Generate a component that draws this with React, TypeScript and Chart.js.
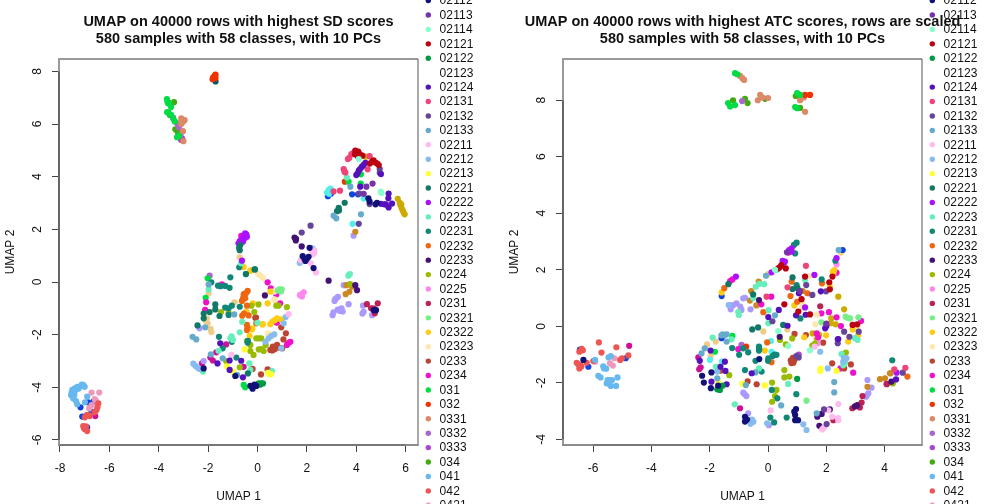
import React, { useEffect, useRef } from "react";
import { Chart, registerables } from "chart.js";

Chart.register(...registerables);

type P = number[][];

const legendLabels = ["02112","02113","02114","02121","02122","02123","02124","02131","02132","02133","02211","02212","02213","02221","02222","02223","02231","02232","02233","0224","0225","0231","02321","02322","02323","0233","0234","031","032","0331","0332","0333","034","041","042","0421"];
const legendColors = ["#111177","#7733aa","#88ffcc","#bb0011","#009944","#ffffff","#5511bb","#ee4477","#664499","#66aacc","#ffbbee","#88bbee","#ffff33","#117766","#aa11ff","#66eebb","#118877","#ee6611","#441177","#99bb00","#ff88ee","#bb2255","#77ee88","#ffcc11","#ffe8b0","#bb4433","#ee11cc","#00dd44","#ee3300","#dd8866","#aa66cc","#aa44cc","#44aa11","#66b8ee","#ee5555","#ee99bb"];
const unlistedColors = ["#ccaa00","#55eeee","#1144dd","#cc8822","#aa99ff","#cc1199","#eecc88","#115566"];

const xTitle = "UMAP 1";
const yTitle = "UMAP 2";
const sdTitle = ["UMAP on 40000 rows with highest SD scores", "580 samples with 58 classes, with 10 PCs"];
const atcTitle = ["UMAP on 40000 rows with highest ATC scores, rows are scaled", "580 samples with 58 classes, with 10 PCs"];

/* ---------- left panel (SD) ---------- */
const sd_02112: P = [[1.83,.98],[2.07,.96],[1.94,.8],[2.11,1.3],[2.27,.53],[4.49,3.18],[4.54,3.05],[4.84,3.01],[4.71,-1.07],[4.8,-1.07],[-.22,-3.97],[-.29,-3.94],[-.12,-3.9],[-2.18,-3.28],[-.9,-3.57],[1.9,.88],[2,.88],[-.2,-4.05],[-.05,-3.95],[4.78,2.95]];
const sd_02113: P = [[4.41,3.62],[4.66,3.74],[4.3,3.35]];
const sd_02114: P = [[4.1,4.67],[4.99,3.43],[5.02,3.38]];
const sd_02121: P = [[3.96,4.99],[4.14,4.86],[4.64,4.57],[4.77,4.54],[4.91,4.44],[4.06,4.78],[4.25,4.8],[4.55,4.5],[4.02,4.9],[4.08,4.95],[4.7,4.62],[4.85,4.5],[3.95,4.85]];
const sd_02122: P = [[.05,-3.85],[.15,-3.85],[.1,-3.9],[.22,-3.85]];
const sd_02124: P = [[4.1,4.23],[4.23,4.38],[4.37,4.53],[4,4.06],[5,4.1],[4.16,3.62],[5.31,3.36],[5.3,3.18],[5.14,2.95],[5.31,2.83],[5.45,2.98],[-1.51,-2.33],[-.66,-2.99],[-1.62,-3.09],[-1.13,-2.98],[-1.13,-3.34],[-.59,-3.62],[5,2.97],[4.16,4.3],[4.3,4.45],[5.2,2.95],[4.05,4.12]];
const sd_02131: P = [[3.8,4.86],[3.66,4.67],[3.49,4.29],[3.56,4.16],[4.46,4.28],[3.08,3.44],[3.34,3.47],[4.54,4.78],[3.52,4.2],[3.88,4.9],[3.72,4.72]];
const sd_02132: P = [[4.95,4.29],[4.54,2.96],[4.1,2.21],[2.15,2.14],[1.79,1.88],[4.12,3.36],[4.95,4.15]];
const sd_02133: P = [[3.76,3.62],[4.19,2.57],[3.19,2.42],[3.08,2.52],[-2.12,-1.72],[-.94,-1.23],[-1.89,-2.75],[-1.41,-2.9],[-.83,-3.53],[-2.63,-2.08],[-2.48,-2.18],[-1.98,-.09]];
const sd_02211: P = [[2.2,1.19],[2.3,1.11],[1.75,.83],[2.16,.71],[2.37,.36],[1.26,-1.22],[-1.06,-2.77],[2.3,1.2],[2.25,1.05]];
const sd_02212: P = [[2.22,1.28],[1.71,.73],[1.14,-1.33],[1.06,-1.57],[.45,-2.14],[.68,-1.99],[.55,-2.05],[.32,-2.27],[-2.52,-3.18],[-2.43,-3.25],[-2.6,-3.1],[.96,-2.52],[-2.35,-3.3]];
const sd_02213: P = [[-.52,-2.56],[-1.24,-3.2],[-.99,-3.4],[.49,-3.51],[.42,-3.45],[.55,-3.5]];
const sd_02221: P = [[3.53,3.01],[3.29,2.82],[3.22,2.69],[-.12,.48],[-.47,.3],[-.7,1.4],[-.72,1.21],[-1.71,-.85],[-1.71,-1.04],[-1.94,-1.14],[-2.18,-1.2],[-1.54,-1.29],[-2.43,-1.65],[-2.18,-1.38],[-.39,-3.47],[3.3,2.72]];
const sd_02222: P = [[-.5,1.85],[-.52,1.66],[-.59,1.53],[-.77,1.47],[-.43,1.72],[-.63,.81],[-.55,1.75],[-.45,1.8],[-.65,1.6],[-.72,1.55]];
const sd_02223: P = [[3.62,3.97],[3.68,.24],[3.74,.3],[-.67,.71],[-1.98,-.28],[-.62,-1.51],[-.72,-1.91],[-1.1,-2.14],[-1.0,-2.2],[-.33,-3.09],[-.29,-3.34],[-1.58,-2.61],[-2.21,-3.4],[.59,-3.38],[.0,-1.55],[-1.05,-2.06]];
const sd_02231: P = [[-1.1,.18],[-1.31,-.15],[-1.13,-.22],[-1.6,-.14],[-1.87,-.01],[-.74,.56],[-.47,.3],[-.1,.48],[-1.17,-1.25],[-.72,-.94],[-1.31,-.97],[-1.17,-1],[-1.04,-.9],[-1.56,-2.08],[-1.04,-2.27],[-1.41,-2.52],[-.86,-2.87],[-.39,-2.23],[-.4,-2.3],[-1.5,-.16],[-.75,1.3]];
const sd_02232: P = [[-.4,-.34],[-.53,-.45],[-.63,-.72],[-.43,-.9],[-.36,-1.27],[-.05,-1.57],[-.62,-1.28],[-.43,-1.63],[-.43,-1.82],[-.56,-.47],[-.5,-.62],[-.58,-.6],[-.46,-.42],[-.55,-1.2],[-.4,-1.75]];
const sd_02233: P = [[1.5,1.69],[1.56,1.64],[1.79,1.35],[2.88,.05],[.3,-.51],[3.96,-.12],[4.03,-.31],[1.55,1.58]];
const sd_0224: P = [[3.75,-.08],[1.19,-.95],[.04,-.85],[.76,-.9],[.85,-.9],[-.25,-.9],[-.13,-1.14],[-1.48,-1.14],[-1.17,-1.17],[.05,-2.14],[-.05,-2.14],[-.29,-2.39],[-.16,-2.77],[-.29,-2.62],[.25,-2.62],[.05,-2.56],[.33,-2.39],[-.72,-3.24],[-1.27,-3],[-.43,-2.24],[.15,-2.14],[-.38,-2.3],[.15,-2.55]];
const sd_0225: P = [[1.77,-.47],[1.87,-.39],[1.72,-.5],[1.8,-.55]];
const sd_0231: P = [[4.43,-.84],[4.87,-.81],[4.71,-1],[4.75,-1.19],[4.6,-1]];
const sd_02321: P = [[.89,-.28],[.98,-.28],[.82,-.32],[.95,-.36]];
const sd_02322: P = [[-.29,.43],[-.56,.57],[.41,-.81],[-.19,-.81],[.2,-1.61],[.52,-1.6],[.79,-1.38],[.95,-1.42],[.52,-.36],[-.46,-1.13],[-.21,-1.76],[-.28,.43],[-.45,-1.13],[-.22,-1.8],[-.32,-2.04],[.21,-1.6],[.6,-1.5],[.7,-1.45]];
const sd_02323: P = [[.03,.3],[.22,.16],[.69,-.36],[.69,-.66],[.6,-.36],[.42,-1.95],[.68,-.68],[.12,.24],[.5,-1.98]];
const sd_0233: P = [[.96,-1.72],[-.09,-1.36],[-.06,-1.35],[1.15,-1.95],[1.05,-2.18],[.79,-2.39],[.52,-2.58],[1,-2.52],[.14,-3.51],[.41,-3.32],[.6,-2.6],[.9,-2.5],[-.2,-3.3],[.62,-2.45],[.7,-2.55]];
const sd_0234: P = [[.41,-.01],[.54,-.24],[.92,-.81],[.76,-.47],[.76,-1.53],[-.66,1.75],[-1.44,-.09],[-2.08,-.77],[-2.12,-1.06],[.79,-1.54],[1.19,-2.39],[1.33,-2.27],[1.25,-2.32],[-1.5,-.14]];
const sd_031: P = [[-3.67,6.95],[-3.65,6.85],[-3.58,6.8],[-3.5,6.65],[-3.6,6.43],[-3.41,6.2],[-3.26,5.5],[4.19,4.09],[3.69,3.81],[4.18,3.74],[-2.02,.14],[-2.1,-.6],[-.56,-3.91],[-.5,-4],[-3.62,6.78],[-3.66,6.45],[-3.5,6.35],[-3.35,6.1],[-3.18,5.55]];
const sd_032: P = [[-1.8,7.75],[-1.75,7.8],[-1.72,7.85],[-1.7,7.88],[-1.78,7.78],[3.54,3.81],[-1.82,7.7],[-1.7,7.75]];
const sd_0331: P = [[-3.09,6.22],[-3,6.1],[-3.09,6],[-3.02,5.73],[-3,5.35],[-2.95,6.15],[-3.08,6.1]];
const sd_0332: P = [[-3.42,6.24],[-3.26,6.03],[-3.19,5.88],[-3.12,5.58],[-1.94,.24]];
const sd_0333: P = [[-3.1,5.4],[-3.05,5.45]];
const sd_034: P = [[-3.38,6.83],[-3.55,6.34],[-3.33,5.8],[-3.25,5.75],[-3.22,5.68]];
const sd_041: P = [[-7.06,-3.91],[-7.19,-3.97],[-7.4,-4.04],[-7.53,-4.2],[-7.46,-4.42],[-7.3,-4.64],[-6.99,-4.57],[-6.9,-4.35],[-7.3,-3.98],[-7.5,-4.1],[-7.42,-4.3],[-7.35,-4.52],[-7,-3.98],[-7.12,-3.9],[-7.55,-4.3],[-7.25,-4.05],[-7.4,-4.15]];
const sd_042: P = [[-6.45,-4.61],[-6.52,-4.86],[-6.92,-5.05],[-6.79,-5.09],[-6.99,-5.14],[-7.06,-5.47],[-6.99,-5.59],[-6.9,-5.66],[-6.48,-4.75],[-6.6,-4.95],[-7.03,-5.55],[-6.95,-5.48],[-6.85,-5.05]];
const sd_0421: P = [[-6.72,-4.2],[-6.41,-4.2],[-6.59,-4.45],[-6.72,-4.67],[-6.82,-4.8],[-6.55,-4.5]];
const sd_gold: P = [[4.38,4.76],[5.68,3.16],[5.79,2.92],[5.84,2.8],[5.92,2.63],[5.76,3.01],[5.96,2.57],[5.82,2.95],[5.88,2.72]];
const sd_cyan: P = [[2.81,3.4],[2.88,3.49],[2.95,3.55],[4.3,3.17],[3.85,2.21],[2.9,3.35]];
const sd_blue: P = [[3.83,3.33],[4.07,3.33],[2.85,3.26],[2.98,3.36],[-7.17,-4.76],[-6.86,-4.57],[-6.65,-4.54],[-6.73,-4.92],[-7.1,-5.11],[-6.9,-5.52]];
const sd_brown: P = [[3.96,1.91],[3.6,-.12],[3.72,-.37],[3.57,-.46],[3.83,-.18]];
const sd_lavender: P = [[3.89,1.76],[3.19,-.62],[3.12,-.72],[3.35,-1.1],[3.04,-1.26],[3.49,-.12],[3.69,-.84],[4.3,-1.13],[4.27,-.9],[4.64,-1.26],[3.26,-.56],[3.45,-1.12],[3.08,-1.15],[-2.35,-1.76],[-2.18,-3],[3.25,-1.05],[4.25,-1.2],[3.4,-1],[3.15,-.65]];
const sd_magenta: P = [[-6.57,-5.09],[-1.27,-2.37],[-1.67,-2.67],[-1.91,-2.87],[-1.81,-2.98],[-2.25,-3.09],[-.56,-3.22]];
const sd_tan: P = [[-.72,.94],[-1.98,-.43],[-.93,-.77],[-2.05,-1.38],[-2.02,-1.57],[-1.87,-1.9],[-1.9,-1.78],[-2.1,-1.46]];
const sd_deep: P = [[-1.7,7.62]];

/* ---------- right panel (ATC) ---------- */
const atc_02112: P = [[-6.33,-1.19],[-2.26,-1.75],[-1.94,-1.63],[-2.2,-1.99],[-1.96,-2.19],[-1.71,-2.1],[-.79,-3.2],[-.79,-3.37],[.96,-2.93],[.93,-3.14],[.93,-3.32],[1.03,-3.32],[-.3,-1.16],[-.72,-3.3],[.9,-3.02]];
const atc_02113: P = [[.65,2.62],[1.1,1.25],[2,.1]];
const atc_02114: P = [[.35,-.17],[.69,-.7],[1.44,-.85],[.24,2]];
const atc_02121: P = [[2.21,1.76],[2.1,1.56],[2.12,1.31],[.46,2.17],[.35,2.05],[.61,2.05],[1.27,1.76],[.56,.78],[1.15,.96],[1.04,.52],[1.44,.42],[2.9,.05],[3.06,.07],[.41,2.1]];
const atc_02122: P = [[-1.74,-2.23],[-1.56,-2.1],[1,-1.86],[-1.65,-2.25]];
const atc_02124: P = [[1.06,1.17],[1.81,1.24],[.96,.39],[1.29,.41],[.37,.58],[.01,.33],[.67,.02],[2.41,-.45],[2,.01],[1.96,-.07],[-.56,-1.66],[-1.48,-1.25],[-1.63,-1.43],[-1.46,-1.58],[-1.42,-2.05],[-1.94,-1.96],[-1.97,-.86],[-2.34,-1.22],[4.39,-1.88]];
const atc_02131: P = [[1.3,2.14],[.67,1.38],[-.05,1.05],[4.33,-1.52],[4.71,-1.47]];
const atc_02132: P = [[1.31,1.46],[1.52,1.11],[1.99,1.24],[.15,.18],[2.61,-.19],[2.79,-.37],[3.11,-.19],[2.39,-.6],[2.39,-.46],[.97,-1.05],[1.05,-1.1],[1.92,-2.94],[2.01,-3.46],[4.62,-1.64]];
const atc_02133: P = [[2.42,2.7],[-.07,1.79],[.24,.39],[-.43,-1.63],[2.27,-1.97],[2.27,-2.34],[1.67,-3.08],[-.76,-2.08],[-1.48,-.31],[-1.42,-.54],[-2.17,-.78],[-1.74,-1.84],[-2.28,-.96],[-1.55,-.28],[.45,-2.8],[-1.42,-.28],[-1.6,-.32]];
const atc_02211: P = [[.09,-2.97],[2.41,-2.75],[2.07,-2.97],[2.2,-3.2],[2.41,-3.32],[1.86,-3.65],[1.6,-.72],[2.4,-3.25],[1.92,-3.58]];
const atc_02212: P = [[1.79,-.9],[2.05,-1.49],[2.69,-1.13],[2.58,-1.25],[-.5,-3.38],[1.21,-3.47],[1.32,-3.67],[-.03,-3.43],[-1.35,.75],[-1.74,-1.6],[-.6,-3.45],[-.55,-3.3],[2.6,-1.12]];
const atc_02213: P = [[1.79,-1.58],[-.11,-2.09],[-.88,-2.04],[2.35,-1.58],[-1.71,-1.96],[1.8,-1.5]];
const atc_02221: P = [[.84,1.73],[-1.36,1.49],[-.51,1.13],[-.54,-.11],[-.34,-.04],[.52,.05],[1.01,1.35],[.84,1.32]];
const atc_02222: P = [[.81,2.76],[.81,2.64],[2.35,2.41],[.58,2.29],[.5,2.32],[.12,1.91],[-1.1,1.76],[1.59,1.82],[1.27,.67],[4.41,-1.64],[.72,2.7],[.55,2.25]];
const atc_02223: P = [[1.27,1.64],[-.3,1.5],[-.13,1.49],[-.42,1.4],[-.51,1],[-1.02,.5],[.02,.57],[.01,.11],[3.07,-.48],[2.98,-.42],[2.52,-.98],[2.64,-1.29],[-1.14,-2.76],[-.31,-1.49],[.69,-2.04],[-1.9,-.4],[-1.79,-1.43],[-1.25,-.46],[2.58,-1.38],[-1.0,.4]];
const atc_02231: P = [[.98,2.96],[.89,2.88],[.93,2.58],[2.31,2.32],[1.84,1.66],[.98,1.46],[1.11,.28],[-.31,-.72],[-.31,-.86],[-.68,-.92],[-.85,-.78],[-.99,-1.01],[-1.23,-.77],[.16,-1.05],[.29,-1.01],[.01,-1.13],[-.43,-1.22],[-.79,-1.55],[-.22,-1.6],[.13,-2.25],[.32,-2.55],[.97,-2.4],[.64,-3.23],[.08,-3.23],[.21,-3.4],[4.26,-1.2],[.22,-1.0],[.0,-1.22],[-.3,-.8]];
const atc_02232: P = [[-1.5,1.35],[.81,1.58],[1.85,1.52],[1.35,1.17],[.77,1.07],[-.16,.5],[1,.87],[-.03,-.57],[.12,-1.27],[4.78,-1.78]];
const atc_02233: P = [[-.31,.93],[.4,-.37],[1.69,-3.2],[1.84,-3.1],[2.12,-2.94],[1.76,-3.52],[2.98,-2.84],[4.23,-1.96],[3.05,-2.8]];
const atc_0224: P = [[1.52,-.68],[.83,-.43],[.41,-.48],[.61,-.64],[2.67,-.93],[-1.33,-1.73],[.56,-1.55],[.56,-1.81],[.73,-1.78],[.14,-1.99],[.29,-2.25],[.14,-2.67],[.24,-2.47],[4.28,-2.02],[1.6,-.62],[2.6,-.98]];
const atc_0225: P = [[2.35,2.19],[1.7,-.6]];
const atc_0231: P = [[1.79,.71],[3.21,-2.7],[2.89,-2.9],[3.15,-2.87],[3.24,-2.47],[4.07,-2.04],[2.24,-3.32],[4.07,-2.05],[3.1,-2.78],[3.0,-2.82]];
const atc_02321: P = [[2.66,.34],[2.81,.28],[3.1,.32],[1.83,.14],[1.32,-2.63],[2.74,.3]];
const atc_02322: P = [[2.27,1.99],[2.24,1.88],[2.12,1.4],[-1.59,1.2],[.9,.74],[2.9,-.11],[3.09,-.32],[2.75,-.54],[1.24,-.39],[1.99,-.32],[-.11,-.86],[2.22,1.93]];
const atc_02323: P = [[1.4,1.78],[1.19,.79],[1.67,.41],[1.62,.07],[3.07,-.05],[1.19,.7]];
const atc_0233: P = [[1.89,-.58],[.91,-.27],[1.3,-.31],[2.2,-1.31],[2.84,-1.35],[-.7,-1.95],[-.39,-2.05],[2.61,-1.49],[.87,-1.29],[.78,-1.2],[-1.63,-1.57],[.85,-1.12],[.9,-1.2],[.8,-1.3]];
const atc_0234: P = [[.7,2.61],[2.35,1.9],[-1.22,1.66],[.11,1.05],[-.23,.78],[1.83,.46],[2.09,.5],[2.35,.32],[3.19,.19],[2.5,.01],[1.67,-.25],[1.72,-.39],[2.92,-1.64],[2.48,-1.49],[-1.02,-.81],[-1.3,1.6]];
const atc_031: P = [[-1.13,8.96],[-1.37,7.9],[-1.13,7.83],[1.1,8.19],[.93,7.76],[-1.82,-.9],[-1.22,-.34],[1.0,7.72],[-1.05,8.92],[1.0,8.25],[-1.3,7.78]];
const atc_032: P = [[1.44,8.19],[1.27,8.19],[-.75,-.72]];
const atc_0331: P = [[-.96,8.86],[-.82,8.72],[-.27,8.19],[0,8.08],[-.35,8.0],[1.27,7.59],[1.1,8],[1.23,8.1],[-.2,8.1],[-.88,8.78]];
const atc_0332: P = [[-.91,-.66],[.98,-1.07],[-.89,7.97]];
const atc_0333: P = [[1.05,-1.0]];
const atc_034: P = [[-.79,8.05],[-1.2,8.0],[.95,8.15],[1.1,7.73],[-.1,8.05],[-.7,7.9]];
const atc_041: P = [[-5.47,-1.1],[-5.39,-1.05],[-5.93,-1.19],[-5.62,-1.49],[-5.55,-1.5],[-5.82,-1.75],[-5.74,-1.81],[-5.16,-1.81],[-5.42,-1.9],[-5.53,-2.02],[-5.39,-2.11],[-5.21,-2.11],[-5.35,-1.9],[-5.5,-1.9],[-5.65,-1.42]];
const atc_042: P = [[-5.8,-.57],[-5.2,-.74],[-6.39,-.8],[-6.47,-.9],[-5.71,-.93],[-4.79,-1.03],[-5.01,-1.13],[-5.07,-1.19],[-5.99,-1.23],[-6.56,-1.29],[-6.44,-1.37],[-6.47,-1.49],[-6.22,-1.29],[-6.5,-1.35],[-6.35,-.85],[-6.4,-1.42]];
const atc_0421: P = [[-5.27,-1.13],[-5.42,-1.31],[-5.32,-1.39],[-5.93,-1.25]];
const atc_gold: P = [[2.41,1.05],[2.61,.6],[2.17,.28],[2.15,.11],[2.32,.07],[1.53,-.25],[1.67,-.46],[1.75,-.3]];
const atc_cyan: P = [[.1,-.52],[.12,-.9],[.25,-1.0],[-1.99,-1.19],[-1.58,-1.25],[.3,2.0]];
const atc_blue: P = [[2.56,2.7],[-1.59,1.07],[-1.59,-.42],[-6.16,-1.43],[-6.45,-.82],[-4.88,-1.13]];
const atc_brown: P = [[-.32,1.58],[-.58,1.25],[-.62,.91],[-.4,.74],[1.19,1.25],[3.84,-1.87],[4.01,-1.84],[4.18,-1.66],[3.41,-2.14],[4.2,-1.66]];
const atc_lavender: P = [[-.79,1.01],[-.85,.99],[-1.08,.81],[-1.19,.75],[-1.31,.75],[-.91,.58],[-.6,.6],[-1.28,.6],[-.85,-2.35],[-.74,-2.47],[-.68,-3.08],[3.41,-1.9],[3.44,-2.37],[3.36,-2.49],[3.55,-2.17],[.03,-3.5],[-.95,.7],[-.8,-2.4],[3.4,-2.43]];
const atc_magenta: P = [[-4.76,-.69],[-2.39,-1.1],[-2.31,-1.45],[-2.36,-1.52],[-.96,-2.9]];
const atc_tan: P = [[2.5,2.61],[0,1.85],[-.16,-.18],[.66,-.11],[-2.09,-.64],[-1.97,-1.05],[-1.79,-.54],[1.19,.68]];

const sdSeries: P[] = [sd_02112,sd_02113,sd_02114,sd_02121,sd_02122,[],sd_02124,sd_02131,sd_02132,sd_02133,sd_02211,sd_02212,sd_02213,sd_02221,sd_02222,sd_02223,sd_02231,sd_02232,sd_02233,sd_0224,sd_0225,sd_0231,sd_02321,sd_02322,sd_02323,sd_0233,sd_0234,sd_031,sd_032,sd_0331,sd_0332,sd_0333,sd_034,sd_041,sd_042,sd_0421];
const sdUnlisted: P[] = [sd_gold,sd_cyan,sd_blue,sd_brown,sd_lavender,sd_magenta,sd_tan,sd_deep];
const atcSeries: P[] = [atc_02112,atc_02113,atc_02114,atc_02121,atc_02122,[],atc_02124,atc_02131,atc_02132,atc_02133,atc_02211,atc_02212,atc_02213,atc_02221,atc_02222,atc_02223,atc_02231,atc_02232,atc_02233,atc_0224,atc_0225,atc_0231,atc_02321,atc_02322,atc_02323,atc_0233,atc_0234,atc_031,atc_032,atc_0331,atc_0332,atc_0333,atc_034,atc_041,atc_042,atc_0421];
const atcUnlisted: P[] = [atc_gold,atc_cyan,atc_blue,atc_brown,atc_lavender,atc_magenta,atc_tan,[]];

const FONT = "'Liberation Sans', Arial, Helvetica, sans-serif";

const boxPlugin = {
  id: "rBox",
  beforeDatasetsDraw(chart: any) {
    const { ctx, chartArea: a, scales } = chart;
    const xT = scales.x.ticks.map((t: any) => scales.x.getPixelForValue(t.value));
    const yT = scales.y.ticks.map((t: any) => scales.y.getPixelForValue(t.value));
    ctx.save();
    ctx.lineCap = "butt";
    const seg = (x1: number, y1: number, x2: number, y2: number, c: string, w: number) => {
      ctx.strokeStyle = c; ctx.lineWidth = w; ctx.beginPath(); ctx.moveTo(x1, y1); ctx.lineTo(x2, y2); ctx.stroke();
    };
    seg(a.left - 1, a.top, a.right, a.top, "#999999", 2);
    seg(a.left, a.top, a.left, a.bottom, "#999999", 2);
    seg(a.right, a.top, a.right, a.bottom + 1, "#555555", 1);
    seg(a.left - 1, a.bottom, a.right + 0.5, a.bottom, "#8c8c8c", 2);
    seg(a.left, Math.min(...yT), a.left, Math.max(...yT), "#666666", 2);
    seg(Math.min(...xT), a.bottom, Math.max(...xT), a.bottom, "#777777", 2);
    ctx.restore();
  },
};

const legendPlugin = {
  id: "rLegend",
  afterDraw(chart: any) {
    const { ctx } = chart;
    ctx.save();
    ctx.font = `12px ${FONT}`;
    ctx.textBaseline = "middle";
    ctx.textAlign = "left";
    (ctx as any).letterSpacing = "0.15px";
    legendLabels.forEach((label, i) => {
      const y = 0.6 + i * 14.42;
      ctx.fillStyle = legendColors[i];
      ctx.beginPath();
      ctx.arc(428.3, y, 2.7, 0, Math.PI * 2);
      ctx.fill();
      ctx.fillStyle = "#111111";
      ctx.fillText(label, 439.5, y + 0.5);
    });
    ctx.restore();
  },
};

function makeChart(canvas: HTMLCanvasElement, title: string[], listed: P[], unlisted: P[], xr: number[], yr: number[]) {
  const toPts = (p: P) => p.map(([x, y]) => ({ x, y }));
  const datasets = [
    ...listed.map((p, i) => ({ label: legendLabels[i], data: toPts(p), backgroundColor: legendColors[i] })),
    ...unlisted.map((p, i) => ({ label: `other ${i + 1}`, data: toPts(p), backgroundColor: unlistedColors[i] })),
  ];
  const tickFont = { family: FONT, size: 12 };
  const grid = { display: true, drawOnChartArea: false, drawTicks: true, tickLength: 7, color: "#444444", lineWidth: 1 };
  return new Chart(canvas, {
    type: "scatter",
    data: { datasets },
    plugins: [boxPlugin, legendPlugin],
    options: {
      responsive: false,
      animation: false,
      layout: { padding: { left: 0, right: 27, top: 13, bottom: 0 } },
      elements: { point: { radius: 3.1, borderWidth: 0, hoverRadius: 3.1 } },
      plugins: {
        legend: { display: false },
        tooltip: { enabled: false },
        title: {
          display: true,
          text: title,
          color: "#111111",
          font: { family: FONT, size: 14.5, weight: "bold", lineHeight: 1.2 },
          padding: { top: 0, bottom: 11.2 },
        },
      },
      scales: {
        x: {
          type: "linear",
          min: xr[0],
          max: xr[1],
          afterFit(s: any) { s.height = 59; },
          border: { display: false },
          grid,
          ticks: { stepSize: 2, includeBounds: false, font: tickFont, color: "#111111", padding: 9, maxRotation: 0, autoSkip: false },
          title: { display: true, text: xTitle, font: tickFont, color: "#111111", padding: { top: 0, bottom: 0 } },
        },
        y: {
          type: "linear",
          position: "left",
          min: yr[0],
          max: yr[1],
          afterFit(s: any) { s.width = 59; },
          border: { display: false },
          grid,
          ticks: { stepSize: 2, includeBounds: false, font: tickFont, color: "#111111", padding: 9, minRotation: 90, maxRotation: 90, crossAlign: "center", autoSkip: false },
          title: { display: true, text: yTitle, font: tickFont, color: "#111111", padding: { top: 3, bottom: 0 } },
        },
        legendGutter: {
          type: "linear",
          position: "right",
          afterFit(s: any) { s.width = 59; },
          border: { display: false },
          grid: { display: false },
          ticks: { display: false },
        },
      },
    },
  } as any);
}

export default function App() {
  const leftRef = useRef<HTMLCanvasElement>(null);
  const rightRef = useRef<HTMLCanvasElement>(null);
  useEffect(() => {
    document.body.style.margin = "0";
    const a = makeChart(leftRef.current!, sdTitle, sdSeries, sdUnlisted, [-8.04, 6.5], [-6.19, 8.47]);
    const b = makeChart(rightRef.current!, atcTitle, atcSeries, atcUnlisted, [-7.03, 5.28], [-4.2, 9.46]);
    return () => { a.destroy(); b.destroy(); };
  }, []);
  return (
    <div style={{ position: "relative", width: 1008, height: 504, overflow: "hidden", background: "#fff" }}>
      <canvas ref={leftRef} width={504} height={504} style={{ position: "absolute", left: 0, top: 0, width: 504, height: 504 }} />
      <canvas ref={rightRef} width={504} height={504} style={{ position: "absolute", left: 504, top: 0, width: 504, height: 504 }} />
    </div>
  );
}
